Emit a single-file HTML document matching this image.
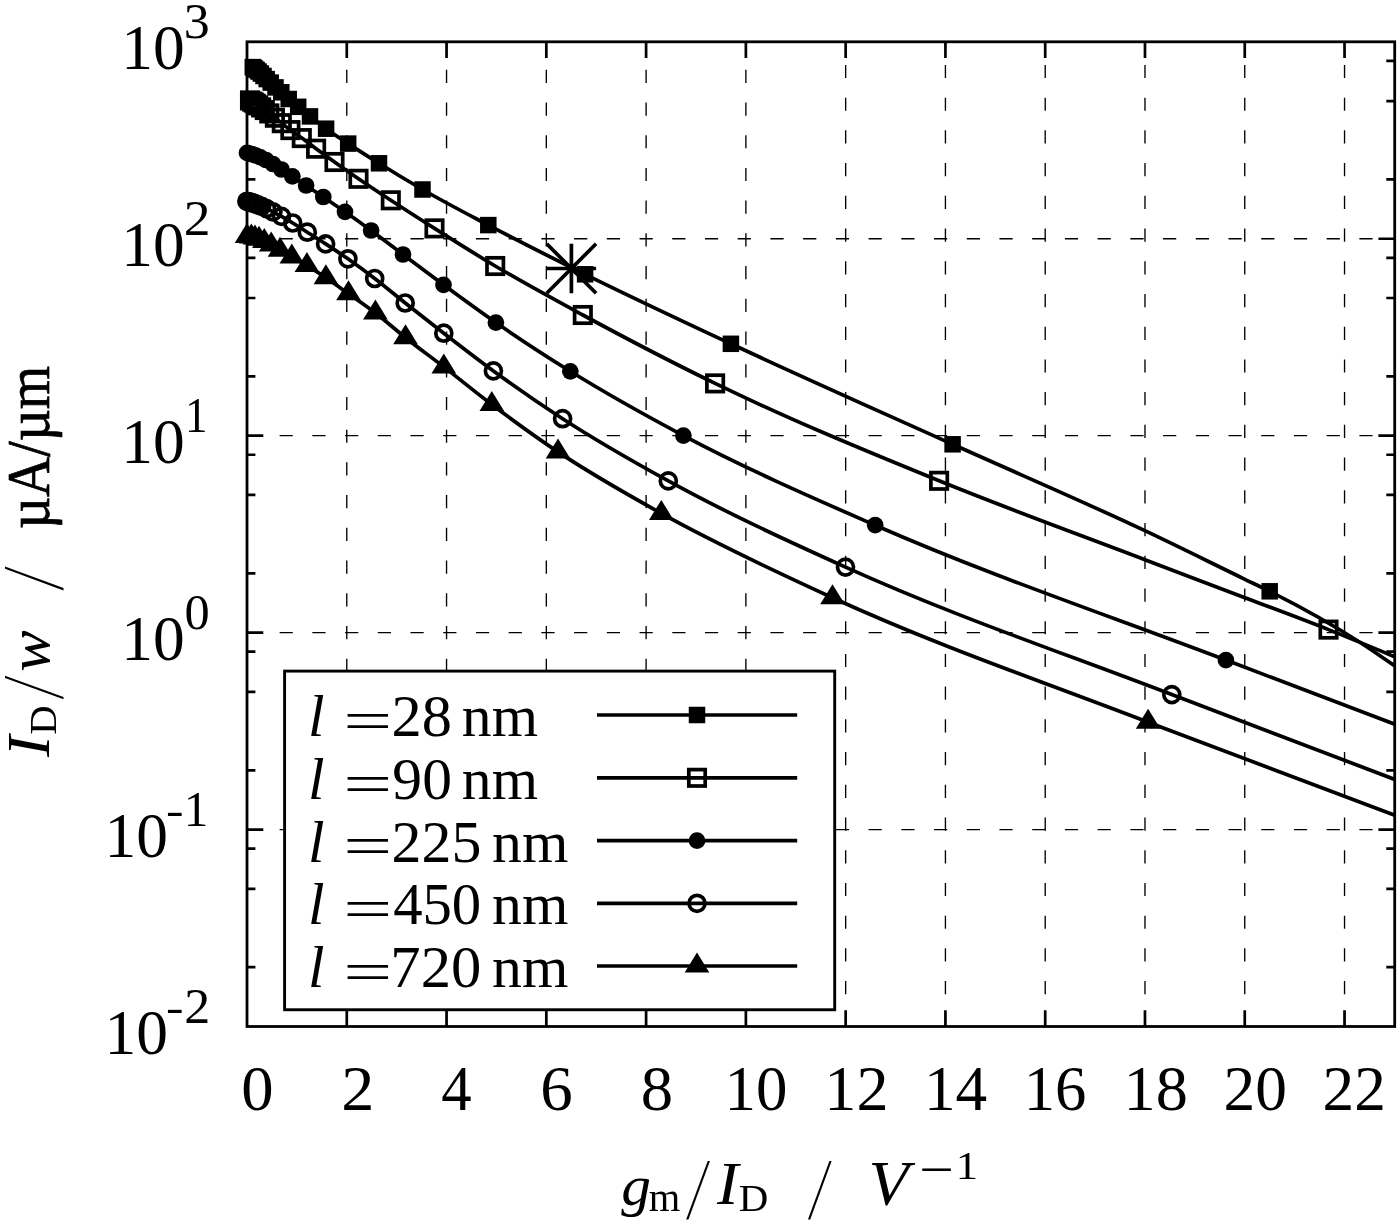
<!DOCTYPE html>
<html lang="en"><head><meta charset="utf-8"><title>ID/w versus gm/ID</title>
<style>html,body{margin:0;padding:0;background:#fff}svg{display:block}text{font-family:"Liberation Serif",serif;fill:#000}</style></head><body>
<svg width="1400" height="1223" viewBox="0 0 1400 1223">
<rect width="1400" height="1223" fill="#fff"/>
<g stroke="#000" stroke-width="1.35" fill="none" stroke-dasharray="13.2 19.52">
<path d="M246.9 238.74H1394.70"/>
<path d="M246.9 435.68H1394.70"/>
<path d="M246.9 632.62H1394.70"/>
<path d="M246.9 829.56H1394.70"/>
<path d="M346.78 1027.0V41.80" stroke-dashoffset="4.8"/>
<path d="M446.55 1027.0V41.80" stroke-dashoffset="4.8"/>
<path d="M546.33 1027.0V41.80" stroke-dashoffset="4.8"/>
<path d="M646.10 1027.0V41.80" stroke-dashoffset="4.8"/>
<path d="M745.88 1027.0V41.80" stroke-dashoffset="4.8"/>
<path d="M845.66 1027.0V41.80"/>
<path d="M945.43 1027.0V41.80"/>
<path d="M1045.21 1027.0V41.80"/>
<path d="M1144.98 1027.0V41.80"/>
<path d="M1244.76 1027.0V41.80"/>
<path d="M1344.54 1027.0V41.80"/>
</g>
<g stroke="#000" stroke-width="2.7" fill="none">
<path d="M346.78 41.80v16.3M346.78 1026.50v-16.3"/>
<path d="M446.55 41.80v16.3M446.55 1026.50v-16.3"/>
<path d="M546.33 41.80v16.3M546.33 1026.50v-16.3"/>
<path d="M646.10 41.80v16.3M646.10 1026.50v-16.3"/>
<path d="M745.88 41.80v16.3M745.88 1026.50v-16.3"/>
<path d="M845.66 41.80v16.3M845.66 1026.50v-16.3"/>
<path d="M945.43 41.80v16.3M945.43 1026.50v-16.3"/>
<path d="M1045.21 41.80v16.3M1045.21 1026.50v-16.3"/>
<path d="M1144.98 41.80v16.3M1144.98 1026.50v-16.3"/>
<path d="M1244.76 41.80v16.3M1244.76 1026.50v-16.3"/>
<path d="M1344.54 41.80v16.3M1344.54 1026.50v-16.3"/>
<path d="M247.00 238.74h16.3M1394.70 238.74h-16.3"/>
<path d="M247.00 435.68h16.3M1394.70 435.68h-16.3"/>
<path d="M247.00 632.62h16.3M1394.70 632.62h-16.3"/>
<path d="M247.00 829.56h16.3M1394.70 829.56h-16.3"/>
<path d="M247.00 179.46h8.4M1394.70 179.46h-8.4"/>
<path d="M247.00 101.08h8.4M1394.70 101.08h-8.4"/>
<path d="M247.00 60.89h8.4M1394.70 60.89h-8.4"/>
<path d="M247.00 376.40h8.4M1394.70 376.40h-8.4"/>
<path d="M247.00 298.02h8.4M1394.70 298.02h-8.4"/>
<path d="M247.00 257.83h8.4M1394.70 257.83h-8.4"/>
<path d="M247.00 573.34h8.4M1394.70 573.34h-8.4"/>
<path d="M247.00 494.96h8.4M1394.70 494.96h-8.4"/>
<path d="M247.00 454.77h8.4M1394.70 454.77h-8.4"/>
<path d="M247.00 770.28h8.4M1394.70 770.28h-8.4"/>
<path d="M247.00 691.90h8.4M1394.70 691.90h-8.4"/>
<path d="M247.00 651.71h8.4M1394.70 651.71h-8.4"/>
<path d="M247.00 967.22h8.4M1394.70 967.22h-8.4"/>
<path d="M247.00 888.84h8.4M1394.70 888.84h-8.4"/>
<path d="M247.00 848.65h8.4M1394.70 848.65h-8.4"/>
</g>
<clipPath id="pc"><rect x="217.0" y="41.8" width="1177.7" height="984.7"/></clipPath>
<g clip-path="url(#pc)">
<path d="M252.80 67.10C253.12 67.32 253.43 67.54 253.75 67.77C254.19 68.09 254.63 68.42 255.07 68.75C255.61 69.15 256.14 69.57 256.67 69.99C257.30 70.49 257.94 71.01 258.57 71.54C259.32 72.17 260.08 72.83 260.83 73.51C261.72 74.31 262.61 75.15 263.50 76.00C264.57 77.01 265.63 78.11 266.70 79.10C268.03 80.34 269.37 81.36 270.70 82.60C272.30 84.09 273.90 85.91 275.50 87.40C277.43 89.20 279.37 90.62 281.30 92.30C283.77 94.45 286.23 96.86 288.70 99.00C291.87 101.75 295.03 104.21 298.20 106.80C302.13 110.02 306.07 113.28 310.00 116.40C315.37 120.65 320.73 124.80 326.10 128.70C333.47 134.05 340.83 138.74 348.20 143.60C358.47 150.37 368.73 156.89 379.00 163.30C393.50 172.35 408.00 181.12 422.50 189.50C444.43 202.18 466.37 213.52 488.30 225.10C520.57 242.13 552.83 258.31 585.10 274.30C633.70 298.39 682.30 321.08 730.90 343.80C804.80 378.34 878.70 410.96 952.60 444.30C1016.70 473.22 1080.80 500.35 1144.90 530.70C1178.23 546.48 1211.57 563.16 1244.90 579.30C1253.17 583.30 1261.43 587.15 1269.70 591.30C1300.13 606.56 1330.57 623.25 1361.00 643.00C1372.23 650.29 1383.47 658.10 1394.70 665.90" fill="none" stroke="#000" stroke-width="3.7" stroke-linejoin="round"/>
<rect x="244.55" y="58.85" width="16.5" height="16.5" fill="#000"/>
<rect x="245.50" y="59.52" width="16.5" height="16.5" fill="#000"/>
<rect x="246.82" y="60.50" width="16.5" height="16.5" fill="#000"/>
<rect x="248.42" y="61.74" width="16.5" height="16.5" fill="#000"/>
<rect x="250.32" y="63.29" width="16.5" height="16.5" fill="#000"/>
<rect x="252.58" y="65.26" width="16.5" height="16.5" fill="#000"/>
<rect x="255.25" y="67.75" width="16.5" height="16.5" fill="#000"/>
<rect x="258.45" y="70.85" width="16.5" height="16.5" fill="#000"/>
<rect x="262.45" y="74.35" width="16.5" height="16.5" fill="#000"/>
<rect x="267.25" y="79.15" width="16.5" height="16.5" fill="#000"/>
<rect x="273.05" y="84.05" width="16.5" height="16.5" fill="#000"/>
<rect x="280.45" y="90.75" width="16.5" height="16.5" fill="#000"/>
<rect x="289.95" y="98.55" width="16.5" height="16.5" fill="#000"/>
<rect x="301.75" y="108.15" width="16.5" height="16.5" fill="#000"/>
<rect x="317.85" y="120.45" width="16.5" height="16.5" fill="#000"/>
<rect x="339.95" y="135.35" width="16.5" height="16.5" fill="#000"/>
<rect x="370.75" y="155.05" width="16.5" height="16.5" fill="#000"/>
<rect x="414.25" y="181.25" width="16.5" height="16.5" fill="#000"/>
<rect x="480.05" y="216.85" width="16.5" height="16.5" fill="#000"/>
<rect x="576.85" y="266.05" width="16.5" height="16.5" fill="#000"/>
<rect x="722.65" y="335.55" width="16.5" height="16.5" fill="#000"/>
<rect x="944.35" y="436.05" width="16.5" height="16.5" fill="#000"/>
<rect x="1261.45" y="583.05" width="16.5" height="16.5" fill="#000"/>
<path d="M250.00 100.40C250.73 100.78 251.45 101.16 252.18 101.58C252.71 101.88 253.24 102.20 253.77 102.52C254.42 102.92 255.07 103.33 255.73 103.75C256.53 104.26 257.33 104.80 258.14 105.34C259.13 106.01 260.12 106.70 261.11 107.40C262.33 108.26 263.55 109.14 264.77 110.04C266.28 111.14 267.79 112.27 269.30 113.42C271.16 114.83 273.02 116.27 274.89 117.72C277.19 119.52 279.50 121.36 281.80 123.20C284.67 125.48 287.53 127.92 290.40 130.10C294.20 132.98 298.00 135.37 301.80 138.10C306.57 141.53 311.33 145.21 316.10 148.70C322.23 153.20 328.37 157.63 334.50 162.00C342.50 167.70 350.50 173.32 358.50 178.80C369.27 186.18 380.03 193.24 390.80 200.30C405.37 209.86 419.93 219.18 434.50 228.40C454.73 241.21 474.97 253.96 495.20 266.00C524.40 283.37 553.60 299.16 582.80 315.00C626.90 338.92 671.00 361.95 715.10 383.40C789.77 419.72 864.43 450.34 939.10 480.80C1007.70 508.79 1076.30 533.56 1144.90 559.70C1178.23 572.40 1211.57 585.00 1244.90 597.70C1272.77 608.31 1300.63 618.53 1328.50 629.60C1350.57 638.36 1372.63 647.53 1394.70 656.70" fill="none" stroke="#000" stroke-width="3.7" stroke-linejoin="round"/>
<rect x="241.80" y="92.20" width="16.4" height="16.4" fill="none" stroke="#000" stroke-width="3.7"/>
<rect x="243.98" y="93.38" width="16.4" height="16.4" fill="none" stroke="#000" stroke-width="3.7"/>
<rect x="245.57" y="94.32" width="16.4" height="16.4" fill="none" stroke="#000" stroke-width="3.7"/>
<rect x="247.53" y="95.55" width="16.4" height="16.4" fill="none" stroke="#000" stroke-width="3.7"/>
<rect x="249.94" y="97.14" width="16.4" height="16.4" fill="none" stroke="#000" stroke-width="3.7"/>
<rect x="252.91" y="99.20" width="16.4" height="16.4" fill="none" stroke="#000" stroke-width="3.7"/>
<rect x="256.57" y="101.84" width="16.4" height="16.4" fill="none" stroke="#000" stroke-width="3.7"/>
<rect x="261.10" y="105.22" width="16.4" height="16.4" fill="none" stroke="#000" stroke-width="3.7"/>
<rect x="266.69" y="109.52" width="16.4" height="16.4" fill="none" stroke="#000" stroke-width="3.7"/>
<rect x="273.60" y="115.00" width="16.4" height="16.4" fill="none" stroke="#000" stroke-width="3.7"/>
<rect x="282.20" y="121.90" width="16.4" height="16.4" fill="none" stroke="#000" stroke-width="3.7"/>
<rect x="293.60" y="129.90" width="16.4" height="16.4" fill="none" stroke="#000" stroke-width="3.7"/>
<rect x="307.90" y="140.50" width="16.4" height="16.4" fill="none" stroke="#000" stroke-width="3.7"/>
<rect x="326.30" y="153.80" width="16.4" height="16.4" fill="none" stroke="#000" stroke-width="3.7"/>
<rect x="350.30" y="170.60" width="16.4" height="16.4" fill="none" stroke="#000" stroke-width="3.7"/>
<rect x="382.60" y="192.10" width="16.4" height="16.4" fill="none" stroke="#000" stroke-width="3.7"/>
<rect x="426.30" y="220.20" width="16.4" height="16.4" fill="none" stroke="#000" stroke-width="3.7"/>
<rect x="487.00" y="257.80" width="16.4" height="16.4" fill="none" stroke="#000" stroke-width="3.7"/>
<rect x="574.60" y="306.80" width="16.4" height="16.4" fill="none" stroke="#000" stroke-width="3.7"/>
<rect x="706.90" y="375.20" width="16.4" height="16.4" fill="none" stroke="#000" stroke-width="3.7"/>
<rect x="930.90" y="472.60" width="16.4" height="16.4" fill="none" stroke="#000" stroke-width="3.7"/>
<rect x="1320.30" y="621.40" width="16.4" height="16.4" fill="none" stroke="#000" stroke-width="3.7"/>
<path d="M247.00 152.90C247.84 153.09 248.67 153.28 249.51 153.50C250.46 153.75 251.40 154.02 252.35 154.30C253.54 154.67 254.74 155.07 255.93 155.50C257.43 156.05 258.93 156.64 260.43 157.30C262.29 158.11 264.16 159.01 266.02 159.99C268.32 161.20 270.61 162.61 272.90 164.00C275.77 165.74 278.63 167.67 281.50 169.50C285.13 171.81 288.77 174.05 292.40 176.40C296.97 179.35 301.53 182.46 306.10 185.50C311.83 189.32 317.57 193.13 323.30 197.00C330.53 201.88 337.77 206.75 345.00 211.80C353.70 217.87 362.40 224.13 371.10 230.50C381.73 238.29 392.37 246.52 403.00 254.50C416.50 264.63 430.00 274.86 443.50 284.80C460.97 297.66 478.43 310.48 495.90 322.60C520.70 339.81 545.50 355.91 570.30 371.30C608.00 394.69 645.70 415.58 683.40 435.60C747.33 469.54 811.27 497.20 875.20 525.20C992.10 576.40 1109.00 615.52 1225.90 660.10C1282.17 681.56 1338.43 702.88 1394.70 724.20" fill="none" stroke="#000" stroke-width="3.7" stroke-linejoin="round"/>
<circle cx="247.00" cy="152.90" r="8.35" fill="#000"/>
<circle cx="249.51" cy="153.50" r="8.35" fill="#000"/>
<circle cx="252.35" cy="154.30" r="8.35" fill="#000"/>
<circle cx="255.93" cy="155.50" r="8.35" fill="#000"/>
<circle cx="260.43" cy="157.30" r="8.35" fill="#000"/>
<circle cx="266.02" cy="159.99" r="8.35" fill="#000"/>
<circle cx="272.90" cy="164.00" r="8.35" fill="#000"/>
<circle cx="281.50" cy="169.50" r="8.35" fill="#000"/>
<circle cx="292.40" cy="176.40" r="8.35" fill="#000"/>
<circle cx="306.10" cy="185.50" r="8.35" fill="#000"/>
<circle cx="323.30" cy="197.00" r="8.35" fill="#000"/>
<circle cx="345.00" cy="211.80" r="8.35" fill="#000"/>
<circle cx="371.10" cy="230.50" r="8.35" fill="#000"/>
<circle cx="403.00" cy="254.50" r="8.35" fill="#000"/>
<circle cx="443.50" cy="284.80" r="8.35" fill="#000"/>
<circle cx="495.90" cy="322.60" r="8.35" fill="#000"/>
<circle cx="570.30" cy="371.30" r="8.35" fill="#000"/>
<circle cx="683.40" cy="435.60" r="8.35" fill="#000"/>
<circle cx="875.20" cy="525.20" r="8.35" fill="#000"/>
<circle cx="1225.90" cy="660.10" r="8.35" fill="#000"/>
<path d="M246.90 201.30C247.26 201.39 247.62 201.48 247.98 201.58C248.55 201.73 249.13 201.89 249.71 202.06C250.29 202.22 250.86 202.39 251.44 202.57C252.01 202.75 252.58 202.93 253.15 203.12C253.83 203.35 254.51 203.58 255.20 203.83C256.11 204.15 257.02 204.49 257.94 204.85C259.16 205.32 260.38 205.82 261.60 206.34C263.22 207.03 264.84 207.77 266.46 208.54C268.61 209.56 270.75 210.69 272.90 211.80C275.77 213.29 278.63 214.80 281.50 216.40C285.23 218.49 288.97 220.73 292.70 223.00C297.57 225.95 302.43 229.11 307.30 232.20C313.40 236.07 319.50 239.92 325.60 243.90C333.03 248.75 340.47 253.61 347.90 258.80C356.83 265.04 365.77 271.65 374.70 278.50C384.87 286.30 395.03 294.93 405.20 303.00C418.07 313.22 430.93 323.26 443.80 333.20C460.33 345.97 476.87 358.81 493.40 370.90C516.47 387.76 539.53 403.70 562.60 418.70C597.83 441.61 633.07 461.51 668.30 480.90C727.37 513.41 786.43 540.36 845.50 567.10C954.27 616.35 1063.03 652.77 1171.80 694.60C1246.10 723.18 1320.40 751.29 1394.70 779.40" fill="none" stroke="#000" stroke-width="3.7" stroke-linejoin="round"/>
<circle cx="246.90" cy="201.30" r="8.0" fill="none" stroke="#000" stroke-width="3.7"/>
<circle cx="247.98" cy="201.58" r="8.0" fill="none" stroke="#000" stroke-width="3.7"/>
<circle cx="249.71" cy="202.06" r="8.0" fill="none" stroke="#000" stroke-width="3.7"/>
<circle cx="251.44" cy="202.57" r="8.0" fill="none" stroke="#000" stroke-width="3.7"/>
<circle cx="253.15" cy="203.12" r="8.0" fill="none" stroke="#000" stroke-width="3.7"/>
<circle cx="255.20" cy="203.83" r="8.0" fill="none" stroke="#000" stroke-width="3.7"/>
<circle cx="257.94" cy="204.85" r="8.0" fill="none" stroke="#000" stroke-width="3.7"/>
<circle cx="261.60" cy="206.34" r="8.0" fill="none" stroke="#000" stroke-width="3.7"/>
<circle cx="266.46" cy="208.54" r="8.0" fill="none" stroke="#000" stroke-width="3.7"/>
<circle cx="272.90" cy="211.80" r="8.0" fill="none" stroke="#000" stroke-width="3.7"/>
<circle cx="281.50" cy="216.40" r="8.0" fill="none" stroke="#000" stroke-width="3.7"/>
<circle cx="292.70" cy="223.00" r="8.0" fill="none" stroke="#000" stroke-width="3.7"/>
<circle cx="307.30" cy="232.20" r="8.0" fill="none" stroke="#000" stroke-width="3.7"/>
<circle cx="325.60" cy="243.90" r="8.0" fill="none" stroke="#000" stroke-width="3.7"/>
<circle cx="347.90" cy="258.80" r="8.0" fill="none" stroke="#000" stroke-width="3.7"/>
<circle cx="374.70" cy="278.50" r="8.0" fill="none" stroke="#000" stroke-width="3.7"/>
<circle cx="405.20" cy="303.00" r="8.0" fill="none" stroke="#000" stroke-width="3.7"/>
<circle cx="443.80" cy="333.20" r="8.0" fill="none" stroke="#000" stroke-width="3.7"/>
<circle cx="493.40" cy="370.90" r="8.0" fill="none" stroke="#000" stroke-width="3.7"/>
<circle cx="562.60" cy="418.70" r="8.0" fill="none" stroke="#000" stroke-width="3.7"/>
<circle cx="668.30" cy="480.90" r="8.0" fill="none" stroke="#000" stroke-width="3.7"/>
<circle cx="845.50" cy="567.10" r="8.0" fill="none" stroke="#000" stroke-width="3.7"/>
<circle cx="1171.80" cy="694.60" r="8.0" fill="none" stroke="#000" stroke-width="3.7"/>
<path d="M247.00 236.50C248.44 236.63 249.89 236.76 251.33 237.03C252.53 237.25 253.73 237.55 254.92 237.89C256.29 238.28 257.66 238.75 259.02 239.27C260.78 239.95 262.54 240.79 264.30 241.60C266.60 242.67 268.90 243.77 271.20 245.00C274.13 246.57 277.07 248.47 280.00 250.20C283.93 252.51 287.87 254.84 291.80 257.10C296.83 260.00 301.87 262.60 306.90 265.60C313.23 269.37 319.57 273.46 325.90 277.70C333.43 282.74 340.97 288.33 348.50 293.70C357.47 300.09 366.43 306.13 375.40 313.00C385.43 320.69 395.47 329.72 405.50 337.70C418.27 347.85 431.03 357.05 443.80 366.90C459.80 379.25 475.80 392.42 491.80 404.50C513.87 421.16 535.93 437.14 558.00 451.90C592.43 474.93 626.87 494.23 661.30 513.40C718.37 545.16 775.43 571.57 832.50 597.70C937.70 645.88 1042.90 681.73 1148.10 722.20C1230.30 753.83 1312.50 784.51 1394.70 815.20" fill="none" stroke="#000" stroke-width="3.7" stroke-linejoin="round"/>
<path d="M247.00 223.00L259.30 243.00H234.70Z" fill="#000"/>
<path d="M251.33 223.53L263.63 243.53H239.03Z" fill="#000"/>
<path d="M254.92 224.39L267.22 244.39H242.62Z" fill="#000"/>
<path d="M259.02 225.77L271.32 245.77H246.72Z" fill="#000"/>
<path d="M264.30 228.10L276.60 248.10H252.00Z" fill="#000"/>
<path d="M271.20 231.50L283.50 251.50H258.90Z" fill="#000"/>
<path d="M280.00 236.70L292.30 256.70H267.70Z" fill="#000"/>
<path d="M291.80 243.60L304.10 263.60H279.50Z" fill="#000"/>
<path d="M306.90 252.10L319.20 272.10H294.60Z" fill="#000"/>
<path d="M325.90 264.20L338.20 284.20H313.60Z" fill="#000"/>
<path d="M348.50 280.20L360.80 300.20H336.20Z" fill="#000"/>
<path d="M375.40 299.50L387.70 319.50H363.10Z" fill="#000"/>
<path d="M405.50 324.20L417.80 344.20H393.20Z" fill="#000"/>
<path d="M443.80 353.40L456.10 373.40H431.50Z" fill="#000"/>
<path d="M491.80 391.00L504.10 411.00H479.50Z" fill="#000"/>
<path d="M558.00 438.40L570.30 458.40H545.70Z" fill="#000"/>
<path d="M661.30 499.90L673.60 519.90H649.00Z" fill="#000"/>
<path d="M832.50 584.20L844.80 604.20H820.20Z" fill="#000"/>
<path d="M1148.10 708.70L1160.40 728.70H1135.80Z" fill="#000"/>
</g>
<path d="M546.6999999999999 268.5H596.1M571.4 243.8V293.2M546.6999999999999 243.8L596.1 293.2M546.6999999999999 293.2L596.1 243.8" stroke="#000" stroke-width="3.7" fill="none"/>
<rect x="247.0" y="41.8" width="1147.70" height="984.70" fill="none" stroke="#000" stroke-width="2.8"/>
<rect x="284.6" y="671.1" width="550.10" height="338.65" fill="#fff" stroke="#000" stroke-width="2.9"/>
<path d="M597 715.0H797.2" stroke="#000" stroke-width="3.7"/>
<rect x="688.75" y="706.75" width="16.5" height="16.5" fill="#000"/>
<text x="308.04" y="736.00" font-size="59.57" font-style="italic" textLength="16.55" lengthAdjust="spacingAndGlyphs">l</text>
<text x="343.26" y="739.75" font-size="57.60" textLength="49.00" lengthAdjust="spacingAndGlyphs">=</text>
<text x="391.58" y="736.00" font-size="59.50" textLength="60.38" lengthAdjust="spacingAndGlyphs">28</text>
<text x="461.86" y="736.00" font-size="58.90" textLength="76.16" lengthAdjust="spacingAndGlyphs">nm</text>
<path d="M597 777.8H797.2" stroke="#000" stroke-width="3.7"/>
<rect x="688.80" y="769.60" width="16.4" height="16.4" fill="none" stroke="#000" stroke-width="3.7"/>
<text x="308.04" y="798.80" font-size="59.57" font-style="italic" textLength="16.55" lengthAdjust="spacingAndGlyphs">l</text>
<text x="343.26" y="802.55" font-size="57.60" textLength="49.00" lengthAdjust="spacingAndGlyphs">=</text>
<text x="392.36" y="798.80" font-size="59.50" textLength="59.57" lengthAdjust="spacingAndGlyphs">90</text>
<text x="461.86" y="798.80" font-size="58.90" textLength="76.16" lengthAdjust="spacingAndGlyphs">nm</text>
<path d="M597 840.6H797.2" stroke="#000" stroke-width="3.7"/>
<circle cx="697.00" cy="840.60" r="8.35" fill="#000"/>
<text x="308.04" y="861.60" font-size="59.57" font-style="italic" textLength="16.55" lengthAdjust="spacingAndGlyphs">l</text>
<text x="343.26" y="865.35" font-size="57.60" textLength="49.00" lengthAdjust="spacingAndGlyphs">=</text>
<text x="391.61" y="861.60" font-size="59.50" textLength="89.79" lengthAdjust="spacingAndGlyphs">225</text>
<text x="492.06" y="861.60" font-size="58.90" textLength="76.26" lengthAdjust="spacingAndGlyphs">nm</text>
<path d="M597 903.3H797.2" stroke="#000" stroke-width="3.7"/>
<circle cx="697.00" cy="903.30" r="8.0" fill="none" stroke="#000" stroke-width="3.7"/>
<text x="308.04" y="924.30" font-size="59.57" font-style="italic" textLength="16.55" lengthAdjust="spacingAndGlyphs">l</text>
<text x="343.26" y="928.05" font-size="57.60" textLength="49.00" lengthAdjust="spacingAndGlyphs">=</text>
<text x="393.13" y="924.30" font-size="59.50" textLength="88.08" lengthAdjust="spacingAndGlyphs">450</text>
<text x="492.06" y="924.30" font-size="58.90" textLength="76.26" lengthAdjust="spacingAndGlyphs">nm</text>
<path d="M597 966.0H797.2" stroke="#000" stroke-width="3.7"/>
<path d="M697.00 952.50L709.30 972.50H684.70Z" fill="#000"/>
<text x="308.04" y="987.00" font-size="59.57" font-style="italic" textLength="16.55" lengthAdjust="spacingAndGlyphs">l</text>
<text x="343.26" y="990.75" font-size="57.60" textLength="49.00" lengthAdjust="spacingAndGlyphs">=</text>
<text x="390.36" y="987.00" font-size="59.50" textLength="90.91" lengthAdjust="spacingAndGlyphs">720</text>
<text x="492.06" y="987.00" font-size="58.90" textLength="76.26" lengthAdjust="spacingAndGlyphs">nm</text>
<text x="241.32" y="1110.00" font-size="63.70" textLength="32.35" lengthAdjust="spacingAndGlyphs">0</text>
<text x="341.27" y="1110.00" font-size="63.70" textLength="33.12" lengthAdjust="spacingAndGlyphs">2</text>
<text x="441.28" y="1110.00" font-size="63.70" textLength="30.38" lengthAdjust="spacingAndGlyphs">4</text>
<text x="540.24" y="1110.00" font-size="63.70" textLength="32.46" lengthAdjust="spacingAndGlyphs">6</text>
<text x="640.82" y="1110.00" font-size="63.70" textLength="32.35" lengthAdjust="spacingAndGlyphs">8</text>
<text x="724.50" y="1110.00" font-size="63.70" textLength="62.86" lengthAdjust="spacingAndGlyphs">10</text>
<text x="824.39" y="1110.00" font-size="63.70" textLength="64.14" lengthAdjust="spacingAndGlyphs">12</text>
<text x="923.97" y="1110.00" font-size="63.70" textLength="63.23" lengthAdjust="spacingAndGlyphs">14</text>
<text x="1023.77" y="1110.00" font-size="63.70" textLength="62.61" lengthAdjust="spacingAndGlyphs">16</text>
<text x="1123.57" y="1110.00" font-size="63.70" textLength="64.34" lengthAdjust="spacingAndGlyphs">18</text>
<text x="1223.45" y="1110.00" font-size="63.70" textLength="63.43" lengthAdjust="spacingAndGlyphs">20</text>
<text x="1322.55" y="1110.00" font-size="63.70" textLength="63.33" lengthAdjust="spacingAndGlyphs">22</text>
<text x="121.35" y="69.00" font-size="63.70" textLength="63.43" lengthAdjust="spacingAndGlyphs">10</text>
<text x="183.84" y="38.30" font-size="51.50" textLength="25.94" lengthAdjust="spacingAndGlyphs">3</text>
<text x="121.35" y="265.94" font-size="63.70" textLength="63.43" lengthAdjust="spacingAndGlyphs">10</text>
<text x="183.89" y="235.24" font-size="51.50" textLength="26.75" lengthAdjust="spacingAndGlyphs">2</text>
<text x="121.35" y="462.88" font-size="63.70" textLength="63.43" lengthAdjust="spacingAndGlyphs">10</text>
<text x="184.95" y="432.18" font-size="51.50" textLength="22.55" lengthAdjust="spacingAndGlyphs">1</text>
<text x="121.35" y="659.82" font-size="63.70" textLength="63.43" lengthAdjust="spacingAndGlyphs">10</text>
<text x="184.41" y="629.12" font-size="51.50" textLength="25.18" lengthAdjust="spacingAndGlyphs">0</text>
<text x="104.55" y="856.76" font-size="63.70" textLength="63.43" lengthAdjust="spacingAndGlyphs">10</text>
<text x="166.12" y="824.09" font-size="42.67" textLength="17.55" lengthAdjust="spacingAndGlyphs">-</text>
<text x="183.78" y="826.06" font-size="51.50" textLength="24.68" lengthAdjust="spacingAndGlyphs">1</text>
<text x="104.55" y="1053.70" font-size="63.70" textLength="63.43" lengthAdjust="spacingAndGlyphs">10</text>
<text x="166.12" y="1021.03" font-size="42.67" textLength="17.55" lengthAdjust="spacingAndGlyphs">-</text>
<text x="184.26" y="1023.00" font-size="51.50" textLength="26.00" lengthAdjust="spacingAndGlyphs">2</text>
<text x="621.20" y="1204.53" font-size="57.29" font-style="italic" textLength="29.68" lengthAdjust="spacingAndGlyphs">g</text>
<text x="648.69" y="1211.00" font-size="39.36" textLength="31.53" lengthAdjust="spacingAndGlyphs">m</text>
<text x="694.31" y="1218.90" font-size="89.92" textLength="7.65" lengthAdjust="spacingAndGlyphs">⁄</text>
<text x="717.10" y="1204.00" font-size="61.53" font-style="italic" textLength="21.51" lengthAdjust="spacingAndGlyphs">I</text>
<text x="738.67" y="1210.70" font-size="38.94" textLength="29.55" lengthAdjust="spacingAndGlyphs">D</text>
<text x="816.08" y="1218.90" font-size="89.92" textLength="7.62" lengthAdjust="spacingAndGlyphs">⁄</text>
<text x="868.63" y="1204.76" font-size="62.84" font-style="italic" textLength="40.38" lengthAdjust="spacingAndGlyphs">V</text>
<text x="919.02" y="1186.69" font-size="52.00" textLength="34.69" lengthAdjust="spacingAndGlyphs">−</text>
<text x="955.70" y="1179.30" font-size="39.70" textLength="22.27" lengthAdjust="spacingAndGlyphs">1</text>
<g transform="translate(48.7 758.5) rotate(-90)">
<text x="1.55" y="0.00" font-size="61.53" font-style="italic" textLength="21.51" lengthAdjust="spacingAndGlyphs">I</text>
<text x="23.68" y="6.90" font-size="38.94" textLength="29.44" lengthAdjust="spacingAndGlyphs">D</text>
<text x="67.15" y="14.70" font-size="89.92" textLength="7.58" lengthAdjust="spacingAndGlyphs">⁄</text>
<text x="86.85" y="0.42" font-size="58.30" font-style="italic" textLength="41.39" lengthAdjust="spacingAndGlyphs">w</text>
<text x="176.25" y="14.70" font-size="89.92" textLength="7.68" lengthAdjust="spacingAndGlyphs">⁄</text>
<text x="229.39" y="0.00" font-size="61.00" textLength="163.36" lengthAdjust="spacingAndGlyphs" stroke="#000" stroke-width="0.7">µA/µm</text>
</g>
</svg></body></html>
